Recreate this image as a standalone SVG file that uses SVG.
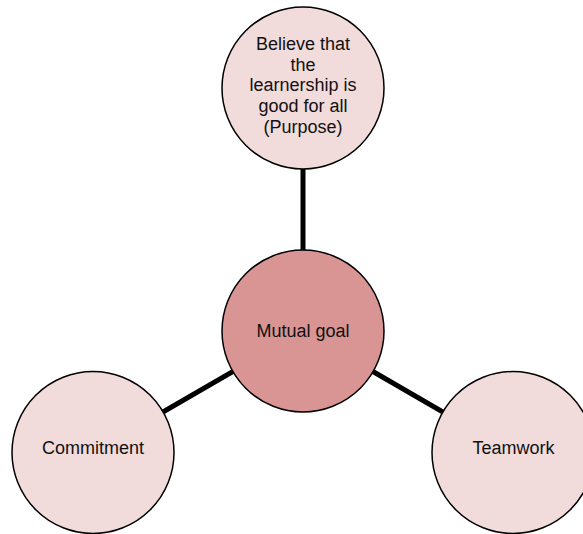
<svg xmlns="http://www.w3.org/2000/svg" width="583" height="534" viewBox="0 0 583 534">
  <style>
    .outer { fill: #F2DCDB; stroke: #000; stroke-width: 1.5; }
    .core { fill: #D99594; stroke: #000; stroke-width: 1.5; }
    .lbl { font-family: "Liberation Sans", Arial, sans-serif; font-size: 18px; fill: #111; text-anchor: middle; }
    .conn { stroke: #000; stroke-width: 5; fill: none; }
  </style>
  <rect width="583" height="534" fill="#fff"/>
  <g id="connectors">
    <line class="conn" x1="303" y1="88" x2="303" y2="331"/>
    <line class="conn" x1="303" y1="331" x2="93" y2="452.5"/>
    <line class="conn" x1="303" y1="331" x2="513" y2="452.5"/>
  </g>
  <g id="node-purpose">
    <circle class="outer" cx="303" cy="88" r="81"/>
    <text class="lbl" x="303" y="50">Believe that</text>
    <text class="lbl" x="303" y="70.7">the</text>
    <text class="lbl" x="303" y="91.4">learnership is</text>
    <text class="lbl" x="303" y="112.1">good for all</text>
    <text class="lbl" x="303" y="132.8">(Purpose)</text>
  </g>
  <g id="node-mutual-goal">
    <circle class="core" cx="303" cy="331" r="81"/>
    <text class="lbl" x="303" y="337">Mutual goal</text>
  </g>
  <g id="node-commitment">
    <circle class="outer" cx="93" cy="452.5" r="81"/>
    <text class="lbl" x="93" y="454">Commitment</text>
  </g>
  <g id="node-teamwork">
    <circle class="outer" cx="513" cy="452.5" r="81"/>
    <text class="lbl" x="513.5" y="454">Teamwork</text>
  </g>
</svg>
